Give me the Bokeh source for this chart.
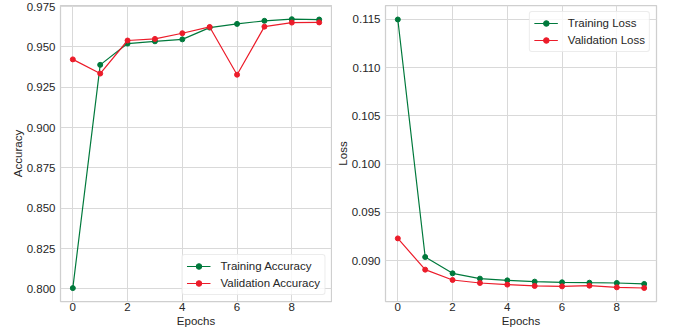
from bokeh.plotting import figure
from bokeh.layouts import row
from bokeh.models import FixedTicker, PrintfTickFormatter, Range1d
from bokeh.embed import file_html
from bokeh.resources import INLINE

epochs = [0, 1, 2, 3, 4, 5, 6, 7, 8, 9]
train_acc = [0.8005, 0.9389, 0.9521, 0.9535, 0.9547, 0.9620, 0.9643, 0.9662, 0.9672, 0.9670]
val_acc = [0.9423, 0.9335, 0.9540, 0.9550, 0.9585, 0.9624, 0.9328, 0.9626, 0.9651, 0.9652]
train_loss = [0.1150, 0.09038, 0.08869, 0.08814, 0.08796, 0.08783, 0.08776, 0.08772, 0.08769, 0.08759]
val_loss = [0.09231, 0.08907, 0.08800, 0.08769, 0.08752, 0.08738, 0.08734, 0.08741, 0.08724, 0.08717]

acc_ticks = [0.800, 0.825, 0.850, 0.875, 0.900, 0.925, 0.950, 0.975]
loss_ticks = [0.090, 0.095, 0.100, 0.105, 0.110, 0.115]
x_ticks = [0, 2, 4, 6, 8]

GREEN = "#00793c"
RED = "#ec1c2a"
TEXT = "#262626"
GRID = "#d9d9d9"
FONT = "Liberation Sans"
FS = "11.5px"


def make_fig(ytitle, yticks, yrange, left_border, right_border):
    p = figure(frame_width=271, frame_height=296, output_backend="svg",
               toolbar_location=None, min_border_left=left_border,
               min_border_right=right_border, min_border_top=5, min_border_bottom=30,
               x_range=Range1d(-0.45, 9.45), y_range=Range1d(*yrange))
    p.background_fill_color = "white"
    p.border_fill_color = "white"
    p.outline_line_color = "#cfcfcf"
    p.outline_line_width = 1.25
    p.xaxis.ticker = FixedTicker(ticks=x_ticks)
    p.yaxis.ticker = FixedTicker(ticks=yticks)
    p.yaxis.formatter = PrintfTickFormatter(format="%.3f")
    for ax in (p.xaxis, p.yaxis):
        ax.axis_line_color = None
        ax.major_tick_line_color = None
        ax.minor_tick_line_color = None
        ax.major_tick_out = 0
        ax.major_tick_in = 0
        ax.minor_tick_out = 0
        ax.major_label_text_font = FONT
        ax.major_label_text_font_size = FS
        ax.major_label_text_color = TEXT
        ax.axis_label_text_font = FONT
        ax.axis_label_text_font_size = FS
        ax.axis_label_text_color = TEXT
        ax.axis_label_text_font_style = "normal"
    p.xaxis.major_label_standoff = 1
    p.yaxis.major_label_standoff = 5
    p.xaxis.axis_label_standoff = 1
    p.yaxis.axis_label_standoff = 0
    p.xaxis.axis_label = "Epochs"
    p.yaxis.axis_label = ytitle
    p.grid.grid_line_color = GRID
    p.grid.grid_line_width = 1
    return p


def style_legend(p, loc):
    lg = p.legend[0]
    lg.location = loc
    lg.margin = 6
    lg.padding = 4
    lg.spacing = 3
    lg.glyph_width = 24
    lg.glyph_height = 14
    lg.label_height = 14
    lg.label_standoff = 10
    lg.label_text_font = FONT
    lg.label_text_font_size = FS
    lg.label_text_color = TEXT
    lg.background_fill_alpha = 0.8
    lg.border_line_color = "#dadada"
    lg.border_line_width = 1
    if "border_radius" in lg.properties():
        lg.border_radius = 3


p1 = make_fig("Accuracy", acc_ticks, (0.7922, 0.9757), 60, 1)
p1.line(epochs, train_acc, color=GREEN, line_width=1.2, legend_label="Training Accuracy")
p1.scatter(epochs, train_acc, color=GREEN, size=5, legend_label="Training Accuracy")
p1.line(epochs, val_acc, color=RED, line_width=1.2, legend_label="Validation Accuracy")
p1.scatter(epochs, val_acc, color=RED, size=5, legend_label="Validation Accuracy")
style_legend(p1, "bottom_right")

p2 = make_fig("Loss", loss_ticks, (0.08577, 0.11645), 53, 10)
p2.line(epochs, train_loss, color=GREEN, line_width=1.2, legend_label="Training Loss")
p2.scatter(epochs, train_loss, color=GREEN, size=5, legend_label="Training Loss")
p2.line(epochs, val_loss, color=RED, line_width=1.2, legend_label="Validation Loss")
p2.scatter(epochs, val_loss, color=RED, size=5, legend_label="Validation Loss")
style_legend(p2, "top_right")

layout = row(p1, p2)

open("out.html", "w").write(file_html(layout, INLINE))
